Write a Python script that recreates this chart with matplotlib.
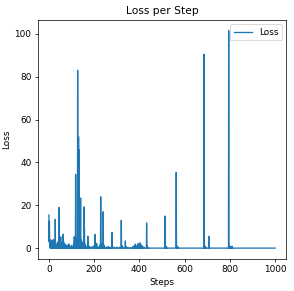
import numpy as np
import matplotlib
matplotlib.use("Agg")
import matplotlib.pyplot as plt

# loss values: every step not listed sits at the flat baseline
n_steps = 1001
baseline = 0.05
spike_steps = [0, 1, 2, 3, 4, 6, 8, 10, 12, 14, 16, 18, 20, 22, 25, 28, 30, 33, 36, 40,
               44, 46, 49, 52, 55, 58, 63, 65, 68, 72, 76, 80, 85, 88, 92, 96, 100, 104,
               109, 112, 115, 118, 120, 122, 124, 127, 129, 131, 133, 135, 137, 140, 142,
               144, 147, 151, 155, 157, 159, 163, 167, 172, 175, 180, 188, 196, 204, 206,
               211, 214, 220, 225, 229, 232, 236, 240, 243, 248, 255, 262, 270, 279, 282,
               290, 300, 312, 320, 323, 327, 338, 341, 350, 362, 372, 378, 382, 386, 391,
               395, 398, 403, 406, 410, 414, 420, 432, 435, 440, 513, 516, 519, 522, 563,
               566, 569, 572, 686, 689, 692, 695, 707, 709, 795, 798, 801, 804, 810]
spike_vals = [15.5, 3, 12.6, 2, 4, 1.5, 3.5, 1, 3.8, 0.8, 3.5, 2, 4, 1, 2, 13.5, 1.5, 2, 1, 3,
              19, 2, 1, 5.3, 2.5, 1.5, 6.5, 3, 1.5, 2, 1, 1.5, 1.2, 2, 1, 0.8, 1.2, 0.8,
              2, 5.3, 2, 34.4, 5, 3, 2, 83, 10, 52, 46, 8, 3, 23.4, 4,
              2, 1.5, 3, 19.3, 9, 2, 1, 0.8, 5.6, 1, 0.8, 0.5, 1, 6.4, 1,
              2.3, 0.8, 0.6, 1.5, 24, 2, 1, 17, 1.5, 0.6, 0.5, 0.8, 0.5, 7.3, 0.8,
              0.4, 0.5, 0.5, 13, 1.2, 0.6, 3.4, 0.8, 0.4, 0.3, 0.8, 1.2, 1.9, 0.8, 1.5,
              2.2, 1, 2.5, 1, 1.5, 0.8, 0.5, 11.8, 1, 0.3, 15, 1, 0.8, 0.2, 35.4,
              1, 0.8, 0.2, 90.5, 1, 0.8, 0.2, 5.6, 0.3, 101.5, 1, 0.8, 0.3, 1]

steps = np.arange(n_steps)
loss = np.full(n_steps, baseline)
loss[spike_steps] = spike_vals

dpi = 64
fig = plt.figure(figsize=(294 / dpi, 291 / dpi), dpi=dpi)
ax = fig.add_axes([0.128, 0.110, 0.846, 0.822])
ax.plot(steps, loss, label="Loss")
ax.set_title("Loss per Step")
ax.set_xlabel("Steps")
ax.set_ylabel("Loss")
ax.legend(loc="upper right")
fig.savefig("out.png", dpi=dpi)
